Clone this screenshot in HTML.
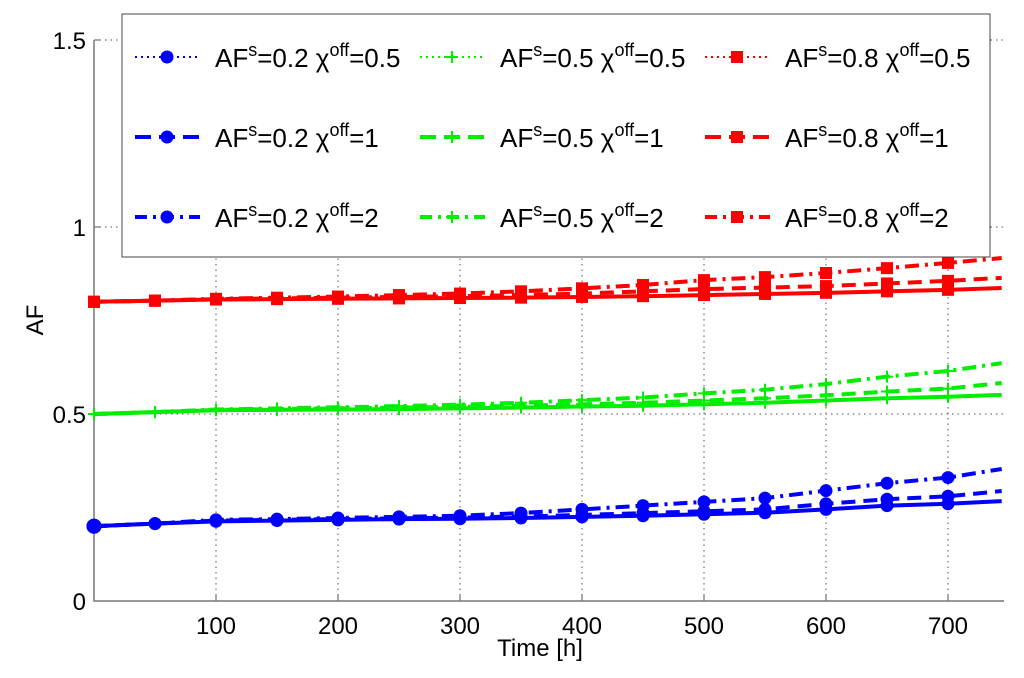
<!DOCTYPE html>
<html><head><meta charset="utf-8"><style>
body{margin:0;background:#fff;}
svg{font-family:"Liberation Sans",sans-serif;}
</style></head><body>
<svg id="c" width="1024" height="673"></svg>
<script>
const times=[0,50,100,150,200,250,300,350,400,450,500,550,600,650,700,744];
const blue05=[0.2,0.207,0.213,0.215,0.217,0.219,0.220,0.222,0.225,0.228,0.232,0.236,0.245,0.255,0.260,0.267];
const blue1=[0.2,0.207,0.215,0.217,0.219,0.221,0.223,0.226,0.230,0.235,0.240,0.245,0.260,0.272,0.280,0.294];
const blue2=[0.2,0.207,0.217,0.219,0.222,0.225,0.228,0.235,0.245,0.255,0.265,0.275,0.295,0.315,0.330,0.353];
const green05=[0.5,0.505,0.510,0.511,0.512,0.513,0.515,0.517,0.520,0.522,0.526,0.530,0.536,0.542,0.546,0.551];
const green1=[0.5,0.505,0.511,0.513,0.515,0.517,0.519,0.522,0.526,0.530,0.536,0.542,0.550,0.560,0.568,0.583];
const green2=[0.5,0.505,0.512,0.515,0.518,0.521,0.525,0.530,0.537,0.544,0.555,0.565,0.580,0.600,0.615,0.636];
const red05=[0.8,0.803,0.806,0.807,0.808,0.809,0.810,0.811,0.813,0.815,0.818,0.821,0.824,0.828,0.832,0.837];
const red1=[0.8,0.803,0.807,0.809,0.811,0.813,0.815,0.818,0.822,0.828,0.834,0.838,0.842,0.849,0.856,0.864];
const red2=[0.8,0.803,0.808,0.811,0.814,0.818,0.822,0.828,0.836,0.845,0.858,0.866,0.877,0.890,0.904,0.917];
const xTicks=[100,200,300,400,500,600,700];
const yTicks=[0,0.5,1,1.5];
const yTickLabels=["0","0.5","1","1.5"];
const X0=94,X1=1004,Y0=601;
const xs=t=>X0+t*1.22;
const ys=v=>Y0-v*374;
const NS="http://www.w3.org/2000/svg";
const svg=document.getElementById('c');
function mk(tag,attrs,parent){const e=document.createElementNS(NS,tag);for(const k in attrs)e.setAttribute(k,attrs[k]);(parent||svg).appendChild(e);return e;}
xTicks.forEach(t=>{const l=mk('line',{x1:xs(t),x2:xs(t),y1:Y0,y2:ys(1.5),stroke:'#555','stroke-dasharray':'1.5,4','stroke-width':1});


const tk=mk('line',{x1:xs(t),x2:xs(t),y1:Y0,y2:Y0-7,stroke:'#555'});


const tx=mk('text',{x:xs(t),y:Y0+33,'text-anchor':'middle','font-size':24});tx.textContent=t;

});
yTicks.forEach((v,i)=>{if(v>0){const l=mk('line',{x1:X0,x2:X1,y1:ys(v),y2:ys(v),stroke:'#555','stroke-dasharray':'1.5,4','stroke-width':1});


const tk=mk('line',{x1:X0,x2:X0+7,y1:ys(v),y2:ys(v),stroke:'#555'});

}
const tx=mk('text',{x:X0-8,y:ys(v)+9,'text-anchor':'end','font-size':24});tx.textContent=yTickLabels[i];

});
const ax=mk('path',{d:`M${X0},${ys(1.5)}V${Y0}H${X1}`,fill:'none',stroke:'#777','stroke-width':1.5});


const xl=mk('text',{x:540,y:656,'text-anchor':'middle','font-size':24});xl.textContent='Time [h]';


const yl=mk('text',{x:0,y:0,'text-anchor':'middle','font-size':24,transform:'translate(43,320) rotate(-90)'});yl.textContent='AF';


const DASH={dot:'2,5',dash:'14,8',dashdot:'14,6,3,6'};
function marker(g,x,y,color,type,s){
 if(type==='o')mk('circle',{cx:x,cy:y,r:s,fill:color},g);
 else if(type==='s')mk('rect',{x:x-s,y:y-s,width:2*s,height:2*s,fill:color},g);
 else mk('path',{d:`M${x-s},${y}H${x+s}M${x},${y-s}V${y+s}`,stroke:color,'stroke-width':2},g);}
const series=[
 [blue05,'#0000ff','o','solid','blue-af02-chi05'],[blue1,'#0000ff','o','dash','blue-af02-chi1'],[blue2,'#0000ff','o','dashdot','blue-af02-chi2'],
 [green05,'#00ee00','+','solid','green-af05-chi05'],[green1,'#00ee00','+','dash','green-af05-chi1'],[green2,'#00ee00','+','dashdot','green-af05-chi2'],
 [red05,'#ff0000','s','solid','red-af08-chi05'],[red1,'#ff0000','s','dash','red-af08-chi1'],[red2,'#ff0000','s','dashdot','red-af08-chi2']];
series.forEach(([vals,col,mt,st,name])=>{
 const g=mk('g',{});
 
 
 const d=vals.map((v,i)=>(i?'L':'M')+xs(times[i])+','+ys(v)).join('');
 const a={d:d,fill:'none',stroke:col,'stroke-width':4};
 if(st!=='solid')a['stroke-dasharray']=DASH[st];
 mk('path',a,g);
 vals.forEach((v,i)=>{if(times[i]%50===0)marker(g,xs(times[i]),ys(v),col,mt,mt==='o'?(i===0?7.5:6.5):(mt==='s'?6:6));});
});
const lg=mk('g',{});


mk('rect',{x:122,y:14,width:868,height:243,fill:'#fff',stroke:'#444','stroke-width':1},lg);
const legCols=[['#0000ff','o','0.2'],['#00ee00','+','0.5'],['#ff0000','s','0.8']];
const legRows=[['dot','0.5'],['dash','1'],['dashdot','2']];
const colX=[135,420,705];const rowY=[57,137,217];
legCols.forEach((c,ci)=>legRows.forEach((r,ri)=>{
 const g=mk('g',{},lg);
 
 
 const x=colX[ci],y=rowY[ri];
 mk('line',{x1:x,x2:x+65,y1:y,y2:y,stroke:c[0],'stroke-width':r[0]==='dot'?2:4,'stroke-dasharray':r[0]==='dot'?'2,4':(r[0]==='dash'?'16,8':'12,6,3,6')},g);
 marker(g,x+32,y,c[0],c[1],c[1]==='o'?6.5:6);
 const t=mk('text',{x:x+80,y:y+10,'font-size':26},g);
 t.innerHTML=`AF<tspan dy="-11" font-size="18">s</tspan><tspan dy="11">=${c[2]} χ</tspan><tspan dy="-11" font-size="18">off</tspan><tspan dy="11">=${r[1]}</tspan>`;
}));
</script>
</body></html>
